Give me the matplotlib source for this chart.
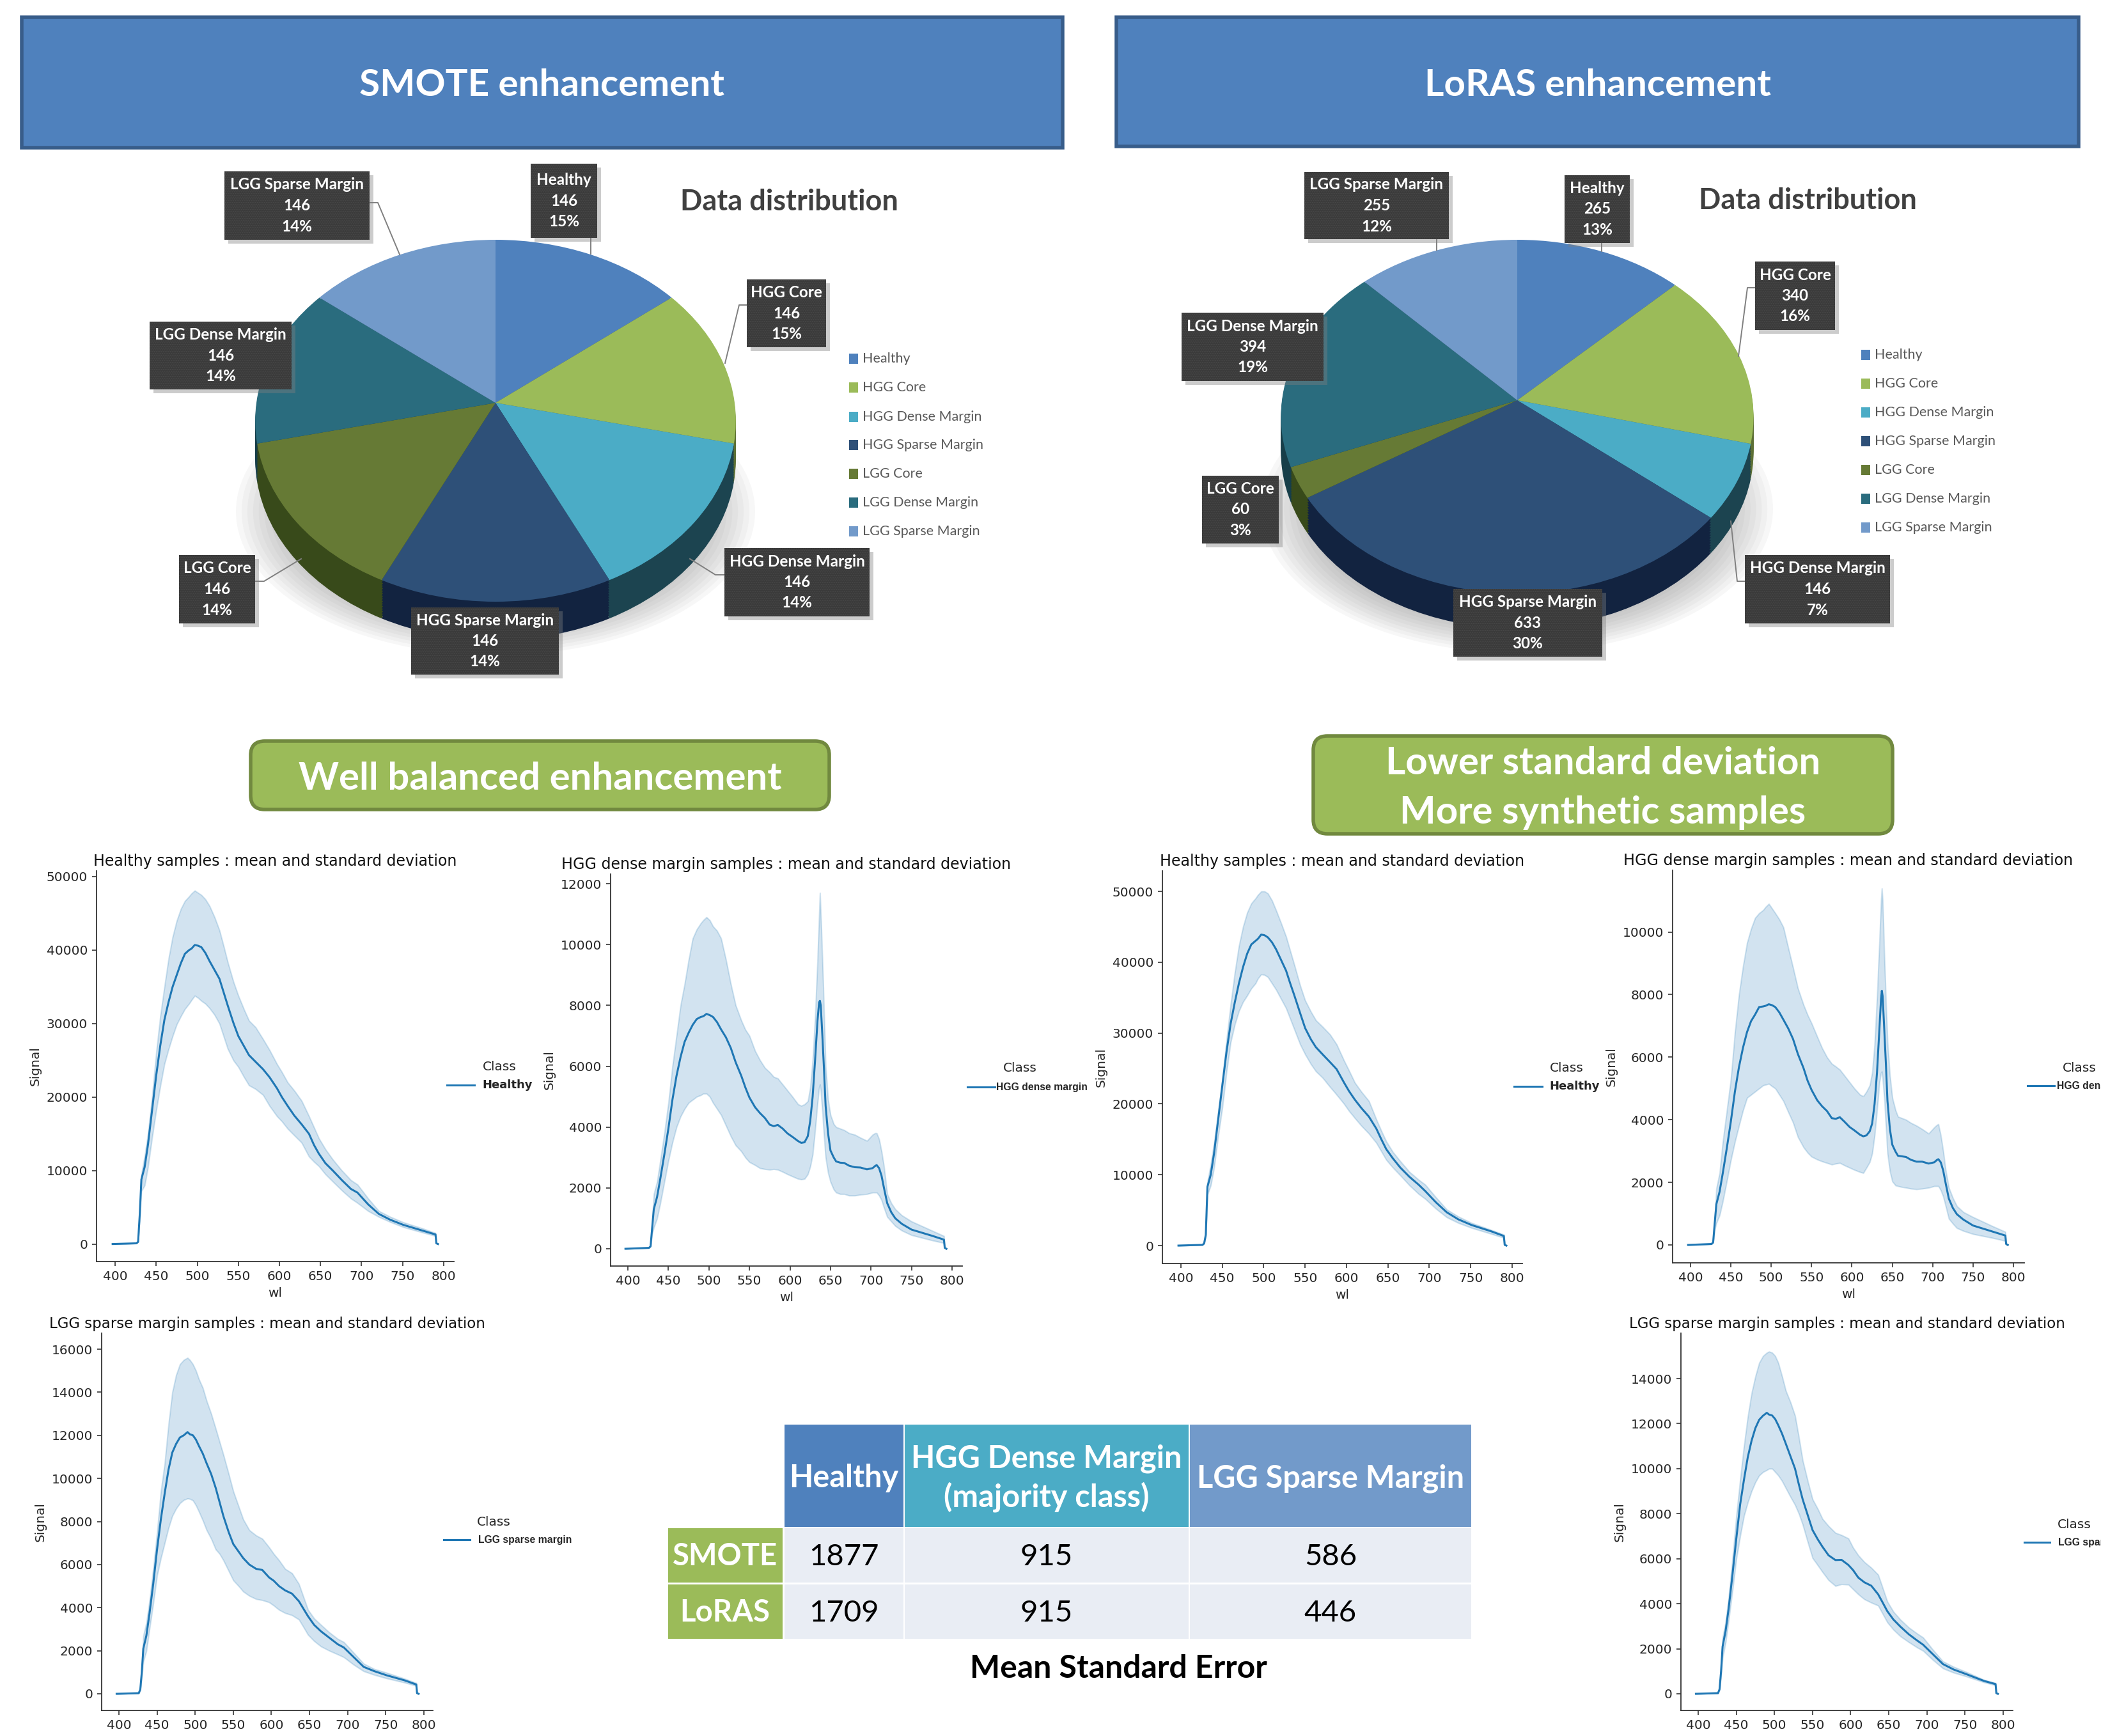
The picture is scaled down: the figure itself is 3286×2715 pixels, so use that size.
import numpy as np
import matplotlib
matplotlib.use('Agg')
import matplotlib.pyplot as plt
import matplotlib.transforms as mtransforms
from matplotlib.patches import Rectangle, FancyBboxPatch, Ellipse

W, H = 3287, 2715
FONT = 'Lato'

# ---- data ----
classes = ['Healthy', 'HGG Core', 'HGG Dense Margin', 'HGG Sparse Margin',
           'LGG Core', 'LGG Dense Margin', 'LGG Sparse Margin']
slice_colors = ['#4F81BD', '#9BBB59', '#4BACC6', '#2E5078', '#667A35', '#2A6C7E', '#729ACA']
side_colors = ['#2F4D71', '#5D7035', '#1C4450', '#122340', '#384A1A', '#173E49', '#44607F']

smote_counts = [146, 146, 146, 146, 146, 146, 146]
smote_pct = ['15%', '15%', '14%', '14%', '14%', '14%', '14%']
loras_counts = [265, 340, 146, 633, 60, 394, 255]
loras_pct = ['13%', '16%', '7%', '30%', '3%', '19%', '12%']

table_cols = ['Healthy', 'HGG Dense Margin\n(majority class)', 'LGG Sparse Margin']
table_col_colors = ['#4F81BD', '#4BACC6', '#729ACA']
table_rows = ['SMOTE', 'LoRAS']
table_vals = [[1877, 915, 586], [1709, 915, 446]]

wl_a = [397, 426, 428, 430, 432, 436, 440, 445, 450, 455, 460, 465, 470, 475, 480, 485, 490, 493, 497, 501,
        505, 510, 515, 521, 527, 532, 537, 544, 550, 557, 563, 571, 580, 588, 597, 603, 610, 618, 627, 636,
        642, 648, 656, 665, 676, 687, 695, 708, 721, 735, 751, 775, 790, 791, 793]

wl_b = [397, 426, 428, 430, 432, 436, 440, 445, 450, 455, 460, 465, 470, 475, 480, 485, 490, 493, 497, 501,
        505, 510, 515, 521, 527, 533, 540, 545, 550, 557, 563, 569, 575, 580, 585, 591, 597, 603, 610, 614,
        618, 622, 625, 628, 631, 634, 636, 637, 638, 640, 642, 644, 647, 650, 654, 657, 662, 667, 673, 680,
        687, 695, 702, 705, 707, 710, 713, 716, 720, 725, 730, 738, 750, 775, 790, 791, 793]

healthy_s_mean = [0, 100, 300, 4000, 8800, 10500, 13500, 18200, 22900, 27000, 30500, 32900, 35000, 36600, 38200,
                  39500, 40000, 40200, 40700, 40600, 40400, 39600, 38500, 37300, 36100, 34300, 32500, 30100,
                  28300, 26900, 25700, 24800, 23800, 22700, 21200, 20000, 18800, 17500, 16300, 15000, 13500,
                  12300, 11000, 10000, 8700, 7500, 7000, 5400, 4100, 3300, 2600, 1800, 1300, 100, 0]
healthy_s_up = [0, 100, 300, 4300, 9500, 12000, 15000, 20000, 26000, 31000, 35000, 38800, 41800, 44000, 45600,
                46700, 47300, 47700, 48100, 47800, 47500, 46900, 46000, 44500, 42700, 40600, 38400, 35700,
                33800, 31900, 30400, 29500, 27900, 26400, 24500, 23400, 22000, 20900, 19500, 17400, 15900,
                14400, 12900, 11500, 10000, 8700, 8100, 6200, 4500, 3700, 2950, 2100, 1500, 100, 0]
healthy_s_low = [0, 100, 300, 3700, 7200, 8000, 10500, 14500, 18200, 21500, 24500, 26500, 28300, 29900, 31000,
                 32000, 32700, 33200, 33800, 33500, 33100, 32700, 32100, 31200, 30000, 28300, 26600, 25000,
                 24100, 22700, 21600, 21100, 20300, 18800, 17400, 16700, 15700, 14800, 13800, 11900, 11200,
                 10600, 9500, 8500, 7300, 6200, 5600, 4500, 3700, 3000, 2300, 1550, 1100, 100, 0]

healthy_l_mean = [0, 100, 300, 1500, 8300, 10000, 13000, 17800, 22600, 27300, 31300, 34300, 37000, 39300, 41200,
                  42500, 43000, 43300, 43900, 43800, 43500, 42800, 41800, 40300, 38800, 37000, 35300, 32800,
                  30700, 29100, 28000, 27000, 25900, 24900, 23000, 21800, 20600, 19400, 18200, 16500, 15000,
                  13600, 12300, 11000, 9700, 8600, 7700, 6100, 4700, 3700, 2900, 2000, 1350, 100, 0]
healthy_l_up = [0, 100, 300, 1700, 9000, 11500, 14500, 19000, 23500, 29000, 34000, 38500, 42300, 45000, 47000,
                48300, 49000, 49500, 50000, 50000, 49700, 48700, 47300, 45500, 43600, 41600, 39600, 36700,
                34600, 33000, 31800, 30900, 29800, 28400, 26100, 24700, 23000, 21700, 20400, 17800, 16200,
                14700, 13200, 11900, 10400, 9300, 8600, 6800, 5100, 4100, 3200, 2200, 1550, 100, 0]
healthy_l_low = [0, 100, 300, 1300, 7200, 8500, 11000, 15500, 19500, 24500, 28700, 31200, 33100, 34400, 35300,
                 36300, 37000, 37700, 38300, 38200, 37900, 37000, 36100, 34800, 33500, 32000, 30500, 28400,
                 27000, 25600, 24600, 23700, 22400, 21300, 20000, 19000, 18000, 16900, 15800, 14500, 13300,
                 12100, 11000, 9900, 8500, 7300, 6600, 5200, 4000, 3200, 2500, 1650, 1100, 100, 0]

lgg_s_mean = [0, 30, 200, 1000, 2100, 2700, 3700, 5100, 6700, 8100, 9300, 10400, 11200, 11600, 11900,
              12000, 12150, 12050, 12000, 11800, 11500, 11150, 10700, 10200, 9550, 8900, 8250, 7500,
              6950, 6600, 6300, 6000, 5800, 5750, 5400, 5250, 5000, 4800, 4650, 4300, 3950,
              3600, 3200, 2900, 2600, 2300, 2150, 1700, 1250, 1050, 860, 620, 430, 30, 0]
lgg_s_up = [0, 30, 200, 1300, 2700, 3300, 4300, 5800, 7500, 9400, 10700, 12500, 14000, 14800, 15300,
            15500, 15600, 15500, 15300, 15000, 14600, 14200, 13600, 13000, 12300, 11700, 11100, 10200,
            9400, 8700, 8100, 7600, 7350, 7200, 6800, 6500, 6200, 5800, 5600, 5100, 4500,
            3900, 3500, 3200, 2850, 2550, 2400, 1900, 1400, 1150, 980, 700, 500, 30, 0]
lgg_s_low = [0, 30, 200, 800, 1500, 2000, 3000, 4200, 5500, 6300, 7000, 7700, 8260, 8600, 8850,
             9000, 9070, 9050, 8980, 8750, 8450, 8050, 7600, 7200, 6700, 6500, 6200, 5700,
             5270, 5000, 4750, 4550, 4400, 4350, 4250, 4100, 3900, 3750, 3650, 3450, 3100,
             2740, 2450, 2200, 2000, 1830, 1700, 1350, 1050, 880, 720, 520, 370, 30, 0]

lgg_l_mean = [0, 30, 200, 1000, 2100, 2800, 3800, 5300, 6900, 8400, 9500, 10500, 11240, 11800, 12170,
              12350, 12480, 12400, 12360, 12200, 11930, 11550, 11100, 10550, 10000, 9300, 8640, 7900,
              7270, 6850, 6530, 6150, 5940, 5950, 5720, 5500, 5160, 4950, 4800, 4420, 4050,
              3670, 3300, 2990, 2650, 2370, 2180, 1750, 1320, 1080, 880, 570, 430, 30, 0]
lgg_l_up = [0, 30, 200, 1200, 2500, 3200, 4300, 6000, 7900, 9500, 11000, 12300, 13350, 14100, 14700,
            15000, 15150, 15200, 15150, 15000, 14700, 14100, 13450, 12950, 12350, 11400, 10370, 9400,
            8640, 8200, 7770, 7450, 7150, 7050, 6900, 6500, 6150, 5850, 5600, 5290, 4700,
            4100, 3650, 3300, 2950, 2680, 2500, 1950, 1440, 1200, 980, 620, 480, 30, 0]
lgg_l_low = [0, 30, 200, 800, 1600, 2300, 3300, 4600, 6000, 7000, 7900, 8500, 9000, 9400, 9700,
             9850, 9940, 10000, 10000, 9850, 9700, 9450, 9130, 8750, 8390, 8000, 7520, 6700,
             6030, 5700, 5410, 5050, 4790, 4870, 4850, 4650, 4420, 4200, 4050, 3920, 3550,
             3180, 2850, 2560, 2300, 2060, 1910, 1500, 1130, 940, 780, 510, 380, 30, 0]

hgg_s_mean = [0, 30, 80, 700, 1300, 1700, 2300, 3100, 3950, 4900, 5680, 6300, 6800, 7100, 7360,
              7550, 7620, 7640, 7720, 7680, 7620, 7450, 7210, 6950, 6600, 6130, 5680, 5300, 4970, 4650,
              4460, 4300, 4080, 4030, 4070, 3950, 3790, 3680, 3540, 3480, 3500, 3700, 4200, 5000, 6200,
              7500, 8100, 8150, 8000, 7000, 5900, 4700, 3800, 3230, 3000, 2870, 2830, 2820, 2730, 2680,
              2670, 2610, 2650, 2720, 2750, 2650, 2400, 2000, 1500, 1200, 1000, 820, 630, 430, 300, 30, 0]
hgg_s_up = [0, 30, 80, 900, 1800, 2200, 2900, 3800, 4800, 6000, 7000, 8000, 8700, 9500, 10200,
            10500, 10700, 10800, 10900, 10800, 10600, 10450, 10200, 9500, 8700, 8000, 7500, 7200, 7000, 6500,
            6200, 5950, 5800, 5650, 5600, 5400, 5200, 5000, 4750, 4700, 4750, 4850, 5300, 6200, 7600,
            9500, 11000, 11700, 11000, 9500, 7800, 6000, 4900, 4400, 4100, 4000, 3950, 3900, 3800, 3750,
            3650, 3550, 3750, 3800, 3800, 3600, 3200, 2700, 1800, 1500, 1300, 1100, 900, 600, 420, 30, 0]
hgg_s_low = [0, 30, 80, 500, 700, 1000, 1500, 2200, 2900, 3500, 4000, 4350, 4600, 4800, 4900,
             5000, 5050, 5100, 5100, 5000, 4800, 4600, 4400, 4050, 3700, 3400, 3200, 3000, 2850, 2750,
             2650, 2620, 2600, 2620, 2600, 2530, 2450, 2380, 2300, 2280, 2300, 2450, 2700, 3100, 3900,
             4800, 5300, 5400, 5200, 4500, 3700, 3000, 2500, 2200, 1950, 1850, 1800, 1800, 1750, 1750,
             1780, 1800, 1850, 1850, 1850, 1750, 1600, 1350, 1050, 900, 750, 600, 450, 280, 190, 30, 0]

hgg_l_mean = [0, 30, 80, 700, 1300, 1700, 2300, 3100, 3950, 4900, 5680, 6300, 6800, 7150, 7360,
              7600, 7620, 7640, 7690, 7660, 7600, 7430, 7200, 6920, 6580, 6100, 5650, 5250, 4950, 4620,
              4430, 4280, 4050, 4030, 4080, 3930, 3770, 3660, 3520, 3470, 3500, 3630, 3880, 4500, 5500,
              6900, 7850, 8120, 7950, 6900, 5800, 4600, 3700, 3200, 2980, 2850, 2830, 2810, 2720, 2660,
              2660, 2600, 2640, 2710, 2740, 2640, 2380, 1980, 1480, 1180, 980, 810, 620, 420, 300, 30, 0]
hgg_l_up = [0, 30, 80, 900, 1800, 2300, 3300, 4300, 5300, 6800, 8000, 8900, 9650, 10100, 10450,
            10600, 10700, 10800, 10900, 10750, 10600, 10400, 10150, 9500, 8860, 8200, 7670, 7350, 7080, 6650,
            6290, 6000, 5790, 5700, 5600, 5400, 5200, 5000, 4800, 4750, 4900, 5100, 5500, 6400, 7900,
            9700, 11000, 11390, 11000, 9300, 7800, 6480, 5400, 4700, 4300, 4100, 4050, 4000, 3900, 3810,
            3700, 3560, 3760, 3830, 3860, 3500, 3000, 2400, 1830, 1500, 1240, 1050, 890, 590, 420, 30, 0]
hgg_l_low = [0, 30, 80, 500, 700, 950, 1400, 2050, 2720, 3300, 3810, 4300, 4700, 4800, 4900,
             5000, 5100, 5120, 5150, 5070, 5000, 4800, 4600, 4250, 3910, 3450, 3120, 2950, 2820, 2730,
             2670, 2620, 2570, 2600, 2620, 2540, 2470, 2400, 2330, 2300, 2470, 2650, 2920, 3500, 4300,
             5200, 5500, 5540, 5300, 4700, 3800, 2920, 2350, 2030, 1900, 1880, 1850, 1830, 1800, 1780,
             1800, 1830, 1880, 1880, 1880, 1750, 1550, 1250, 840, 680, 540, 450, 350, 220, 130, 30, 0]

plt.rcParams['hatch.linewidth'] = 0.8
fig = plt.figure(figsize=(W / 100, H / 100), dpi=100)


def px_axes(left, right, top, bottom, **kw):
    return fig.add_axes([left / W, 1 - bottom / H, (right - left) / W, (bottom - top) / H], **kw)


bg = px_axes(0, W, 0, H, zorder=-1)
bg.set_xlim(0, W)
bg.set_ylim(H, 0)
bg.axis('off')


class Tilt(mtransforms.Transform):
    # perspective of the pie disc: the far half comes out smaller than the near half
    input_dims = 2
    output_dims = 2
    is_affine = False

    def __init__(self, a, b, k):
        super().__init__()
        self.a, self.b, self.k = a, b, k

    def transform_non_affine(self, values):
        values = np.asarray(values, dtype=float)
        u, v = values[:, 0], values[:, 1]
        d = 1 + self.k * v
        return np.column_stack([self.a * u / d, self.b * v / d])


def draw_pie(cx, cy, rx, ry_up, ry_low, depth, counts):
    # soft shadow on the floor
    for n in range(12):
        grow = 1 - n * 0.022
        bg.add_patch(Ellipse((cx, cy + 170), 2 * (rx + 30) * grow, 450 * grow,
                             color='#808080', alpha=0.06, lw=0))

    k = (ry_low - ry_up) / (ry_low + ry_up)
    b = ry_up * (1 + k)
    tilt = Tilt(rx - 2, b, k)
    ax = px_axes(cx - rx, cx + rx, cy - ry_up, cy + ry_low + depth, zorder=1)
    # the side of the pie is the same pie stacked downwards, top face last
    for off in list(range(depth, 0, -4)) + [0]:
        wedges, _ = ax.pie(counts, colors=slice_colors if off == 0 else side_colors, startangle=90,
                           counterclock=False, wedgeprops={'clip_on': False, 'lw': 0})
        for w in wedges:
            w.set_transform(tilt + mtransforms.Affine2D().translate(0, -off) + ax.transData)
    ax.set_aspect('auto')
    ax.set_xlim(-rx, rx)
    ax.set_ylim(-ry_low - depth, ry_up)
    ax.patch.set_alpha(0)


draw_pie(775, 630, 376, 255, 311, 60, smote_counts)
draw_pie(2373, 626, 370, 251, 302, 55, loras_counts)

# spectra
BLUE = '#1f77b4'


def add_spectrum(box, x_cal, y_cal, wl, mean, up, low, title, yticks, title_size):
    left, right, top, bottom = box
    x400, x800 = x_cal
    y0, ycal_px, ycal_val = y_cal
    ax = px_axes(left, right, top, bottom, zorder=2)
    xs = 400 / (x800 - x400)
    ys = ycal_val / (y0 - ycal_px)
    ax.set_xlim(400 + (left - x400) * xs, 400 + (right - x400) * xs)
    ax.set_ylim((y0 - bottom) * ys, (y0 - top) * ys)
    ax.fill_between(wl, low, up, color=BLUE, alpha=0.2, lw=1.5)
    ax.plot(wl, mean, color=BLUE, lw=2.2)
    ax.spines['top'].set_visible(False)
    ax.spines['right'].set_visible(False)
    for s in ('left', 'bottom'):
        ax.spines[s].set_linewidth(1.3)
        ax.spines[s].set_color('#333333')
    ax.set_xticks([400, 450, 500, 550, 600, 650, 700, 750, 800])
    ax.set_yticks(yticks)
    ax.tick_params(labelsize=14.5, length=5, width=1.2, color='#333333', labelcolor='#262626', pad=5)
    ax.set_xlabel('wl', fontsize=14.5, color='#262626', labelpad=5)
    ax.set_ylabel('Signal', fontsize=14.5, color='#262626', labelpad=6)
    ax.set_title(title, fontsize=title_size, color='#111111', pad=6)
    return ax


t_healthy = 'Healthy samples : mean and standard deviation'
t_hgg = 'HGG dense margin samples : mean and standard deviation'
t_lgg = 'LGG sparse margin samples : mean and standard deviation'

add_spectrum((151, 710, 1362, 1973), (180, 694), (1945.6, 1371, 50000), wl_a,
             healthy_s_mean, healthy_s_up, healthy_s_low, t_healthy, range(0, 50001, 10000), 17)
add_spectrum((955, 1505, 1367, 1980), (982, 1489), (1953, 1382, 12000), wl_b,
             hgg_s_mean, hgg_s_up, hgg_s_low, t_hgg, range(0, 12001, 2000), 17.1)
add_spectrum((1818, 2381, 1362, 1976), (1847, 2365), (1948, 1394, 50000), wl_a,
             healthy_l_mean, healthy_l_up, healthy_l_low, t_healthy, range(0, 50001, 10000), 17.1)
add_spectrum((2616, 3166, 1361, 1975), (2644, 3149), (1947, 1457.5, 10000), wl_b,
             hgg_l_mean, hgg_l_up, hgg_l_low, t_hgg, range(0, 10001, 2000), 17.1)
add_spectrum((159, 677, 2085, 2675), (186, 663), (2649, 2110, 16000), wl_a,
             lgg_s_mean, lgg_s_up, lgg_s_low, t_lgg, range(0, 16001, 2000), 16.5)
add_spectrum((2629, 3148, 2085, 2675), (2656, 3133), (2649, 2156, 14000), wl_a,
             lgg_l_mean, lgg_l_up, lgg_l_low, t_lgg, range(0, 14001, 2000), 16.5)

# everything drawn in picture pixels goes on this layer
fg = px_axes(0, W, 0, H, zorder=5)
fg.set_xlim(0, W)
fg.set_ylim(H, 0)
fg.axis('off')
fg.patch.set_alpha(0)

# class legends next to the spectra
spec_legends = [
    (781, 1669, 699, 742, 1697, 754, 'Healthy', 'DejaVu Sans', 13),
    (1595, 1671, 1513, 1556, 1700, 1558, 'HGG dense margin', 'Liberation Sans', 11.3),
    (2450, 1671, 2368, 2412, 1699, 2423, 'Healthy', 'DejaVu Sans', 13),
    (3252, 1670, 3171, 3213, 1698, 3217, 'HGG dense margin', 'Liberation Sans', 11.3),
    (772, 2380, 694, 735, 2408, 748, 'LGG sparse margin', 'Liberation Sans', 11.3),
    (3244, 2384, 3166, 3206, 2412, 3219, 'LGG sparse margin', 'Liberation Sans', 11.3),
]
for cx, cy, x0, x1, ly, tx, name, fam, fs in spec_legends:
    fg.text(cx, cy, 'Class', ha='center', va='center', fontsize=14.5, color='#262626')
    fg.plot([x0, x1], [ly, ly], color=BLUE, lw=2.2)
    fg.text(tx, ly, name, ha='left', va='center', fontsize=fs, fontweight='bold',
            family=fam, color='#262626')

# header boxes
for x0, x1, y0, y1, label, tx in [(34, 1662, 27, 231, 'SMOTE enhancement', 847),
                                  (1746, 3251, 27, 229, 'LoRAS enhancement', 2499)]:
    fg.add_patch(Rectangle((x0, y0), x1 - x0, y1 - y0, fc='#4F81BD', ec='#385D8A', lw=4))
    fg.text(tx, (y0 + y1) / 2 + 5, label, ha='center', va='center', color='white',
            fontsize=42, fontweight='bold', family=FONT)

# green boxes
for x0, x1, y0, y1, lines in [(392, 1297, 1159, 1266, [('Well balanced enhancement', 845, 1218)]),
                              (2054, 2960, 1151, 1304, [('Lower standard deviation', 2507, 1194),
                                                        ('More synthetic samples', 2507, 1271)])]:
    fg.add_patch(FancyBboxPatch((x0 + 22, y0 + 22), x1 - x0 - 44, y1 - y0 - 44,
                                boxstyle='round,pad=22,rounding_size=22',
                                fc='#9BBB59', ec='#71893F', lw=4))
    for txt, tx, ty in lines:
        fg.text(tx, ty, txt, ha='center', va='center', color='white', fontsize=43.2,
                fontweight='bold', family=FONT)


# pie callouts
def callout(x0, x1, y0, y1, lines, leader):
    if leader:
        xs, ys = zip(*leader)
        fg.plot(xs, ys, color='#7F7F7F', lw=1.4, zorder=2)
    fg.add_patch(Rectangle((x0 + 6, y0 + 6), x1 - x0, y1 - y0, fc='#808080', alpha=0.4, lw=0, zorder=2.5))
    fg.add_patch(Rectangle((x0, y0), x1 - x0, y1 - y0, fc='#3A3A3A', ec='#4A4A4A', hatch='......', lw=0, zorder=3))
    fg.text((x0 + x1) / 2, (y0 + y1) / 2, lines, ha='center', va='center', color='white',
            fontsize=17.5, fontweight='bold', family=FONT, linespacing=1.5, zorder=4)


smote_boxes = [(830, 934, 256, 372), (1168, 1292, 437, 543), (1133, 1360, 857, 964), (643, 874, 950, 1055),
               (280, 399, 868, 975), (234, 456, 503, 609), (351, 578, 268, 375)]
smote_leaders = [[(924, 372), (924, 397)], [(1168, 477), (1156, 477), (1134, 568)],
                 [(1133, 899), (1119, 899), (1079, 874)], None,
                 [(399, 909), (413, 909), (471, 874)], None, [(578, 317), (591, 317), (625, 398)]]
loras_boxes = [(2447, 2549, 274, 380), (2745, 2870, 409, 516), (2729, 2956, 868, 975), (2273, 2506, 921, 1027),
               (1880, 2000, 744, 850), (1848, 2070, 489, 596), (2040, 2266, 269, 374)]
loras_leaders = [[(2505, 380), (2505, 393)], [(2745, 450), (2733, 450), (2719, 557)],
                 [(2729, 909), (2717, 909), (2707, 815)], None, None, None, [(2247, 374), (2247, 391)]]

for boxes, leaders, counts, pct in [(smote_boxes, smote_leaders, smote_counts, smote_pct),
                                    (loras_boxes, loras_leaders, loras_counts, loras_pct)]:
    for b, l, name, c, p in zip(boxes, leaders, classes, counts, pct):
        callout(b[0], b[1], b[2], b[3], f'{name}\n{c}\n{p}', l)

# pie titles and legends
for tx, ty, sx, ys in [(1234, 316, 1328, [561, 606, 652, 696, 741, 786, 831]),
                       (2827, 314, 2911, [555, 600, 645, 690, 735, 780, 825])]:
    fg.text(tx, ty, 'Data distribution', ha='center', va='center', fontsize=32.5, fontweight='bold',
            color='#404040', family=FONT)
    for y, name, col in zip(ys, classes, slice_colors):
        fg.add_patch(Rectangle((sx, y - 8), 14, 16, fc=col, lw=0))
        fg.text(sx + 21, y, name, ha='left', va='center', fontsize=15.5, color='#595959', family=FONT)

# table
col_edges = [1226, 1414, 1860, 2302]
row_edges = [(2390, 2475), (2478, 2563)]
for i, (name, col) in enumerate(zip(table_cols, table_col_colors)):
    x0, x1 = col_edges[i] + 1, col_edges[i + 1] - 1
    fg.add_patch(Rectangle((x0, 2228), x1 - x0, 160, fc=col, lw=0))
    fg.text((x0 + x1) / 2, 2312, name, ha='center', va='center', color='white', fontsize=35,
            fontweight='bold', family=FONT, linespacing=1.35)
for r, name in enumerate(table_rows):
    y0, y1 = row_edges[r]
    fg.add_patch(Rectangle((1045, y0), 179, y1 - y0, fc='#9BBB59', lw=0))
    fg.text(1134, (y0 + y1) / 2 + 2, name, ha='center', va='center', color='white', fontsize=34,
            fontweight='bold', family=FONT)
    for i, v in enumerate(table_vals[r]):
        x0, x1 = col_edges[i] + 1, col_edges[i + 1] - 1
        fg.add_patch(Rectangle((x0, y0), x1 - x0, y1 - y0, fc='#E9EDF4', lw=0))
        fg.text((x0 + x1) / 2, (y0 + y1) / 2 + 2, str(v), ha='center', va='center', color='black',
                fontsize=34, family=FONT)
fg.text(1749, 2610, 'Mean Standard Error', ha='center', va='center', color='black', fontsize=36,
        fontweight='bold', family=FONT)

fig.savefig('out.png', dpi=100)
